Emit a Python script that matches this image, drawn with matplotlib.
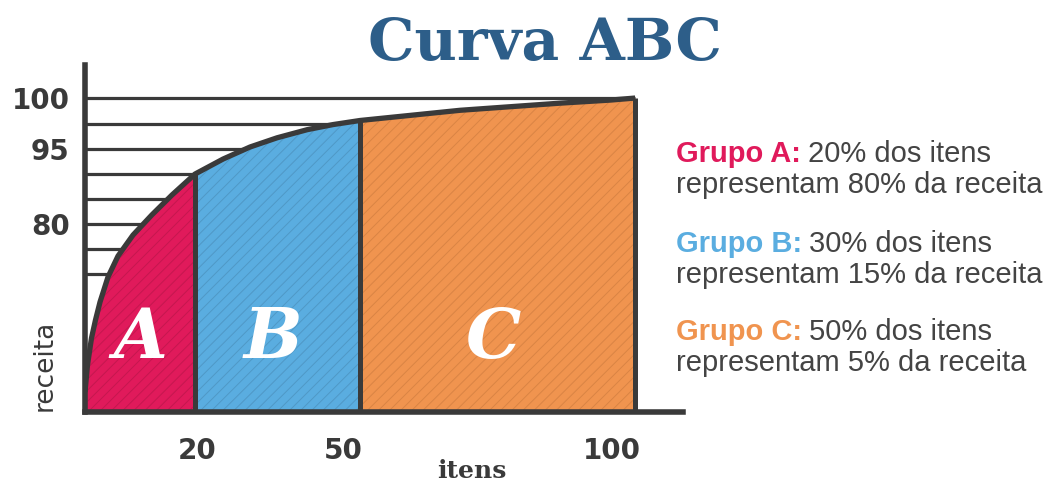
import numpy as np
import matplotlib.pyplot as plt
from matplotlib.transforms import ScaledTranslation

# pontos da curva (% itens x % receita acumulada)
itens = np.array([0, 0.45, 1.18, 1.91, 2.73, 4.18, 6.0, 8.73, 12.13, 15.8, 20,
                  25.1, 30, 34.9, 40.4, 45.1, 50, 68.2, 86.4, 95.5, 100])
receita = np.array([10.1, 23.8, 37.5, 46.7, 55.8, 68.5, 73.6, 77.8, 81.8, 85.8, 90,
                    93.0, 95.2, 96.1, 96.9, 97.4, 97.8, 98.8, 99.5, 99.8, 100])

grupos = ['A', 'B', 'C']
limites = [0, 20, 50, 100]
cores = ['#e01a5b', '#5aade0', '#f0944f']
cores_hachura = ['#c5174f', '#4f98c6', '#d98444']
linhas_grade = [100, 97.5, 95, 90, 85, 80, 75, 70]
yticks = [100, 95, 80]
xticks = [20, 50, 100]

legenda_titulos = ['Grupo A:', 'Grupo B:', 'Grupo C:']
legenda_linha1 = ['20% dos itens', '30% dos itens', '50% dos itens']
legenda_linha2 = ['representam 80% da receita',
                  'representam 15% da receita',
                  'representam 5% da receita']

ESCURO = '#3a3a3a'
plt.rcParams['hatch.linewidth'] = 0.7

# escala vertical esquematica (o desenho original nao e linear)
escala_v = [0, 70, 80, 95, 100, 110]
escala_h = [0, 138, 188, 263, 314, 416]


def fwd(v):
    return np.interp(v, escala_v, escala_h)


def inv(h):
    return np.interp(h, escala_h, escala_v)


fig = plt.figure(figsize=(10.62, 4.84), dpi=100)
ax = fig.add_axes([85 / 1062, 72 / 484, 598 / 1062, 347 / 484])
ax.set_yscale('function', functions=(fwd, inv))
ax.set_xlim(0, 108.7)
ax.set_ylim(0, 103.24)

# linhas horizontais de fundo
ax.hlines(linhas_grade, 0, 100, color=ESCURO, linewidth=2.3, zorder=1)

# areas dos grupos
for i, g in enumerate(grupos):
    lo, hi = limites[i], limites[i + 1]
    m = (itens >= lo) & (itens <= hi)
    ax.fill_between(itens[m], 0, receita[m], facecolor=cores[i],
                    edgecolor=cores_hachura[i], hatch='///', linewidth=0, zorder=2)

# divisoes verticais e curva
ax.vlines(limites[1:], 0, np.interp(limites[1:], itens, receita),
          color=ESCURO, linewidth=3.6, zorder=4)
ax.plot(itens, receita, color=ESCURO, linewidth=3.8, zorder=5,
        solid_capstyle='butt', solid_joinstyle='round')

# letras dos grupos
pos_letras = [10, 34.2, 74.2]
for g, xl in zip(grupos, pos_letras):
    ax.text(xl, 37, g, color='white', fontsize=50, family='DejaVu Serif',
            weight='bold', style='italic', ha='center', va='center', zorder=6)

for s in ['top', 'right']:
    ax.spines[s].set_visible(False)
for s in ['left', 'bottom']:
    ax.spines[s].set_linewidth(4.0)
    ax.spines[s].set_color(ESCURO)
    ax.spines[s].set_capstyle('projecting')
    ax.spines[s].set_zorder(6)

ax.set_xticks(xticks)
ax.set_xticklabels([str(v) for v in xticks])
ax.set_yticks(yticks)
ax.set_yticklabels([str(v) for v in yticks])
ax.minorticks_off()
ax.tick_params(axis='x', length=0, pad=18, labelsize=20, labelcolor=ESCURO)
ax.tick_params(axis='y', length=0, pad=11, labelsize=20, labelcolor=ESCURO)
for lab in ax.get_xticklabels() + ax.get_yticklabels():
    lab.set_fontweight('bold')
# no original os rotulos 50 e 100 ficam um pouco a esquerda das linhas
for lab, dx in zip(ax.get_xticklabels(), [2, -17, -23]):
    lab.set_transform(lab.get_transform() + ScaledTranslation(dx / 100, 0, fig.dpi_scale_trans))

# titulos e rotulos
fig.text(545 / 1062, 1 - 60 / 484, 'Curva ABC', family='DejaVu Serif',
         weight='bold', fontsize=42, color='#2d5e89', ha='center', va='baseline')
fig.text(472 / 1062, 1 - 478 / 484, 'itens', family='DejaVu Serif',
         weight='bold', fontsize=18, color=ESCURO, ha='center', va='baseline')
fig.text(45 / 1062, 1 - 365 / 484, 'receita', fontsize=19, color=ESCURO,
         rotation=90, ha='center', va='center')

# legenda a direita
renderer = fig.canvas.get_renderer()
base_y = [162, 252, 340]
for i in range(3):
    y1 = 1 - base_y[i] / 484
    y2 = 1 - (base_y[i] + 31) / 484
    t = fig.text(676 / 1062, y1, legenda_titulos[i], family='Liberation Sans',
                 weight='bold', fontsize=21, color=cores[i], va='baseline')
    bb = t.get_window_extent(renderer)
    fig.text((bb.x1 + 7) / 1062, y1, legenda_linha1[i], family='Liberation Sans',
             fontsize=21, color='#444444', va='baseline')
    fig.text(676 / 1062, y2, legenda_linha2[i], family='Liberation Sans',
             fontsize=21, color='#444444', va='baseline')

fig.savefig('out.png', dpi=100)
